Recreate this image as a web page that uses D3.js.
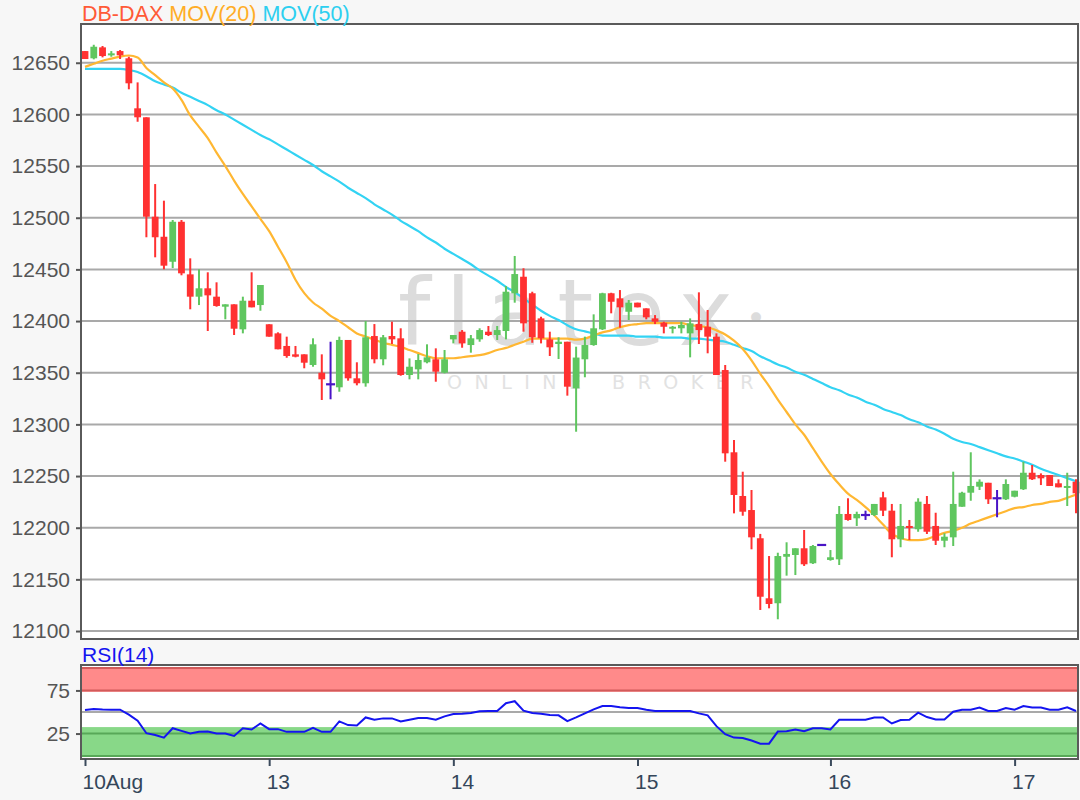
<!DOCTYPE html>
<html><head><meta charset="utf-8">
<script src="https://cdn.jsdelivr.net/npm/d3@7"></script>
<style>body{margin:0;background:#f7f7f7;} svg{display:block;font-family:"Liberation Sans",Arial,sans-serif;}</style>
</head><body>
<svg id="c" width="1080" height="800"></svg>
<script>
// ---- data (hourly candles, 10 Aug - 17 Aug) ----
const open = [12661.3,12654.3,12664.9,12657.2,12661.3,12654.3,12605.9,12597.2,12501.0,12481.6,
12457.4,12496.1,12445.2,12423.6,12431.7,12423.6,12413.9,12416.2,12392.0,12419.7,
12415.5,12396.9,12388.1,12375.9,12367.8,12367.8,12357.5,12350.0,12338.8,12335.9,
12381.7,12344.6,12339.8,12385.5,12363.0,12385.5,12383.3,12347.8,12353.3,12360.1,
12363.0,12350.0,12382.3,12389.7,12376.8,12382.3,12389.7,12386.5,12390.4,12426.9,
12442.9,12426.9,12402.6,12382.3,12377.8,12380.0,12334.9,12363.0,12376.8,12392.0,
12426.9,12422.0,12409.0,12417.8,12412.3,12402.6,12398.4,12393.0,12393.0,12388.1,
12397.1,12394.5,12384.9,12352.6,12273.0,12230.7,12217.1,12189.8,12131.7,12126.9,
12171.9,12173.6,12180.1,12165.6,12183.3,12168.8,12169.4,12213.3,12209.1,12212.3,
12212.3,12229.4,12216.5,12188.8,12201.7,12198.5,12223.0,12201.7,12187.4,12190.7,
12220.3,12233.9,12239.7,12243.5,12228.5,12227.5,12230.0,12237.2,12253.2,12251.0,
12251.0,12243.0,12239.1,12244.5];
const high = [12661.3,12667.4,12666.2,12661.3,12662.3,12655.8,12631.0,12597.2,12532.6,12516.5,
12497.8,12497.8,12460.7,12450.1,12447.2,12437.5,12416.2,12416.2,12423.6,12447.2,
12434.9,12396.9,12389.1,12384.9,12375.9,12367.8,12383.3,12367.8,12380.0,12384.9,
12381.7,12360.1,12400.1,12397.1,12386.5,12399.4,12393.0,12363.9,12368.1,12377.5,
12373.6,12372.0,12386.5,12391.3,12386.5,12393.0,12395.2,12395.2,12433.9,12463.0,
12451.1,12428.4,12404.2,12389.7,12384.3,12380.0,12375.2,12384.9,12406.5,12427.4,
12427.4,12430.0,12420.4,12417.8,12412.3,12405.8,12399.4,12395.2,12399.4,12402.6,
12427.8,12410.7,12388.1,12357.5,12284.9,12254.2,12236.5,12194.0,12172.6,12175.8,
12185.9,12180.1,12197.8,12183.3,12183.3,12178.4,12221.0,12228.5,12215.5,12216.5,
12223.0,12234.8,12223.0,12223.0,12207.5,12228.5,12230.7,12214.5,12194.6,12254.2,
12234.8,12273.0,12246.8,12243.5,12236.5,12246.8,12235.8,12263.9,12260.7,12252.6,
12251.0,12246.8,12253.2,12246.8];
const low = [12653.6,12653.3,12655.2,12655.8,12653.6,12624.3,12592.9,12481.1,12461.7,12450.1,
12451.3,12444.3,12411.4,12415.5,12390.4,12413.9,12401.7,12386.5,12388.1,12413.3,
12410.0,12384.9,12372.7,12364.5,12364.9,12354.3,12355.8,12323.6,12324.3,12331.6,
12342.3,12337.8,12336.5,12359.1,12357.2,12377.8,12347.1,12343.6,12343.6,12359.1,
12341.3,12349.4,12378.4,12374.2,12369.4,12380.0,12385.5,12381.7,12382.3,12417.8,
12389.7,12379.0,12378.4,12366.2,12363.3,12327.8,12292.9,12345.6,12376.1,12391.3,
12407.5,12393.6,12401.0,12413.3,12401.7,12397.1,12388.1,12388.1,12388.1,12364.9,
12377.8,12368.8,12347.8,12263.9,12213.9,12211.6,12179.1,12120.4,12122.0,12111.4,
12153.6,12154.2,12163.0,12164.9,12183.3,12168.1,12163.9,12206.8,12201.7,12207.5,
12211.3,12211.3,12171.4,12181.1,12188.1,12196.1,12193.9,12183.3,12181.1,12182.3,
12220.3,12226.1,12236.5,12223.0,12210.1,12226.8,12229.4,12236.5,12246.2,12241.3,
12240.4,12239.1,12221.0,12213.9];
const close = [12653.6,12665.5,12656.5,12659.1,12657.2,12630.1,12597.2,12501.0,12481.1,12453.6,
12496.1,12446.2,12423.6,12431.7,12424.9,12414.6,12416.2,12392.6,12419.7,12413.3,
12434.9,12384.9,12372.7,12366.2,12365.5,12359.7,12377.5,12343.6,12338.8,12381.7,
12344.6,12339.8,12384.3,12363.0,12384.3,12382.3,12347.8,12355.8,12362.3,12364.9,
12351.0,12363.0,12386.5,12378.4,12383.3,12391.3,12386.5,12391.3,12428.4,12445.5,
12397.8,12384.3,12383.3,12374.6,12380.0,12336.5,12364.7,12376.8,12393.0,12426.9,
12418.7,12413.3,12417.8,12413.3,12403.6,12399.4,12394.5,12394.5,12396.2,12397.8,
12391.3,12384.9,12347.8,12272.0,12231.7,12215.5,12190.7,12133.2,12126.2,12172.6,
12174.6,12180.1,12164.6,12182.3,12183.3,12171.4,12213.3,12207.5,12213.3,12212.3,
12223.0,12216.5,12188.8,12201.7,12200.4,12225.2,12196.1,12187.4,12191.3,12223.0,
12233.9,12240.4,12244.5,12227.5,12228.5,12242.3,12235.8,12253.2,12246.9,12247.8,
12240.4,12239.1,12240.4,12233.3];
const ma20 = [12646,12649,12652,12654,12656,12657,12655,12645,12638,12631,
12625,12614,12599,12588,12577,12563,12550,12536,12523,12511,
12499,12487,12472,12457,12440,12427,12418,12412,12405,12400,
12394,12388,12385,12382,12379,12377,12375,12372,12369,12366,
12364,12364,12364,12365,12366,12367,12369,12372,12374,12377,
12380,12383,12383,12383,12383,12383,12382,12383,12386,12389,
12391,12394,12396,12397,12398,12398,12398,12398,12398,12396,
12395,12394,12391,12387,12381,12373,12362,12349,12337,12324,
12312,12300,12290,12277,12264,12252,12242,12233,12227,12220,
12212,12203,12194,12190,12188,12188,12189,12192,12195,12197,
12200,12204,12207,12210,12213,12216,12219,12220,12222,12223,
12225,12226,12229,12232];
const ma50 = [12644,12644,12644,12644,12644,12643,12641,12637,12632,12629,
12626,12621,12617,12613,12609,12604,12600,12595,12590,12585,
12580,12576,12571,12566,12561,12556,12551,12545,12540,12535,
12529,12524,12519,12513,12508,12503,12497,12492,12487,12481,
12476,12470,12465,12460,12455,12449,12444,12439,12433,12428,
12422,12416,12410,12405,12401,12396,12392,12390,12388,12386,
12386,12386,12386,12385,12385,12385,12384,12384,12384,12383,
12383,12382,12381,12380,12377,12374,12371,12366,12362,12358,
12355,12351,12348,12344,12340,12336,12333,12329,12326,12322,
12319,12315,12312,12309,12305,12302,12298,12295,12291,12286,
12283,12281,12278,12275,12272,12269,12267,12264,12261,12257,
12254,12251,12248,12245];
const rsi = [52.3,53.5,52.8,52.7,52.7,47,40,25.4,23.4,20.3,
31.2,28.1,25,27,27.3,25,25,22.3,31.2,29.7,
36.7,30.1,30.1,27,27,27,31.6,27,27,39.1,
34.8,34.4,43.7,41,42.6,42.6,39.1,41,43,43,
41,44.9,47.7,48,48.8,50.8,51.2,51.2,60.2,62.5,
51.6,48.8,48,46.5,46.1,39.5,43.7,48.4,53,57,
57,55.5,54.7,54.7,52.5,51.2,51.2,51.2,51.2,51.2,
48.4,46.1,33.6,24.2,20.3,19.9,17,13.3,13.3,27.3,
27.7,29.7,27.7,31.2,31.2,29.7,41,41,41,41,
43.7,43.7,36.7,40.6,41,49.2,44.1,41.4,41.4,50.4,
52.7,52.7,55.1,51.2,51.2,54.7,52.7,57,55.1,55.1,
52.7,52.7,55.5,51.2];
const dayTickIndex = [0, 21, 42, 63, 85, 106];
const dayTickLabels = ["10Aug", "13", "14", "15", "16", "17"];
const priceTicks = [12100,12150,12200,12250,12300,12350,12400,12450,12500,12550,12600,12650];
const rsiTicks = [25, 75];
const rsiMid = 50;
const rsiLines = [101, 75, 25, -1];
const rsiBands = [{from: 73.5, to: 101, fill: "#ff8a8a"}, {from: -1, to: 32.5, fill: "#88d888"}];

// ---- layout ----
const svg = d3.select('#c');
const W = 1080, H = 800;
const P = {l: 81, r: 1078, t: 24, b: 639};
const R = {t: 665, b: 759};
svg.append('rect').attr('width', W).attr('height', H).attr('fill', '#f7f7f7');

const x = d3.scaleLinear().domain([0, open.length - 1]).range([85, 1076]);
const y = d3.scaleLinear().domain([12092.3, 12687.5]).range([P.b, P.t]);
const yr = d3.scaleLinear().domain([-4.5, 104.5]).range([R.b, R.t]);

// main panel background
svg.append('rect').attr('x', P.l).attr('y', P.t).attr('width', P.r - P.l).attr('height', P.b - P.t).attr('fill', '#fff');

// watermark
const wm = svg.append('g').attr('pointer-events', 'none');
wm.append('text').attr('x', 398).attr('y', 345).text('flatex')
  .attr('font-family', '"DejaVu Sans", sans-serif').attr('font-weight', 400)
  .attr('font-size', 92).attr('letter-spacing', 15).attr('fill', '#dcdcdc');
wm.append('text').attr('x', 746).attr('y', 330).text('•')
  .attr('font-family', '"DejaVu Sans", sans-serif').attr('font-size', 34).attr('fill', '#dcdcdc');
wm.append('text').attr('x', 447).attr('y', 389).text('ONLINE BROKER')
  .attr('font-family', '"DejaVu Sans", sans-serif').attr('font-size', 19).attr('letter-spacing', 12.5)
  .attr('fill', '#e2e2e2');

// grid lines
svg.append('g').selectAll('line').data(priceTicks).join('line')
  .attr('x1', P.l).attr('x2', P.r).attr('y1', d => y(d)).attr('y2', d => y(d))
  .attr('stroke', '#a9a9a9').attr('stroke-width', 2);

// y axis
const yAxis = svg.append('g').attr('transform', `translate(${P.l},0)`)
  .call(d3.axisLeft(y).tickValues(priceTicks).tickFormat(d3.format('d')).tickSize(5).tickPadding(6));
yAxis.select('.domain').remove();
yAxis.selectAll('line').attr('stroke', '#555').attr('stroke-width', 2);
yAxis.selectAll('text').attr('font-size', 21).attr('fill', '#555').attr('font-family', '"Liberation Sans",Arial,sans-serif');

// moving averages
const line = d3.line().x((d, i) => x(i)).y(d => y(d)).curve(d3.curveMonotoneX);
svg.append('path').datum(ma50).attr('d', line).attr('fill', 'none').attr('stroke', '#33d3f3').attr('stroke-width', 2.2);
svg.append('path').datum(ma20).attr('d', line).attr('fill', 'none').attr('stroke', '#ffb732').attr('stroke-width', 2.2);

// candles
const candles = open.map((o, i) => ({i, o, h: high[i], l: low[i], c: close[i]}));
const colorOf = d => d.c > d.o ? '#5fc65f' : (d.c < d.o ? '#ff3131' : '#4a14c6');
const g = svg.append('g');
g.selectAll('line.wick').data(candles).join('line').attr('class', 'wick')
  .attr('x1', d => x(d.i)).attr('x2', d => x(d.i))
  .attr('y1', d => y(d.h)).attr('y2', d => y(d.l))
  .attr('stroke', colorOf).attr('stroke-width', 2);
g.selectAll('rect.body').data(candles.filter(d => d.o !== d.c)).join('rect').attr('class', 'body')
  .attr('x', d => x(d.i) - 3.4).attr('width', 6.8)
  .attr('y', d => y(Math.max(d.o, d.c)))
  .attr('height', d => Math.max(2, Math.abs(y(d.o) - y(d.c))))
  .attr('fill', colorOf);
g.selectAll('line.doji').data(candles.filter(d => d.o === d.c)).join('line').attr('class', 'doji')
  .attr('x1', d => x(d.i) - 4.5).attr('x2', d => x(d.i) + 4.5)
  .attr('y1', d => y(d.c)).attr('y2', d => y(d.c))
  .attr('stroke', colorOf).attr('stroke-width', 2.2);

// main border
svg.append('rect').attr('x', P.l).attr('y', P.t).attr('width', P.r - P.l).attr('height', P.b - P.t)
  .attr('fill', 'none').attr('stroke', '#5a5a5a').attr('stroke-width', 2);

// title
const title = svg.append('text').attr('x', 82).attr('y', 21).attr('font-size', 21.5);
title.append('tspan').text('DB-DAX ').attr('fill', '#ff5a36');
title.append('tspan').text('MOV(20) ').attr('fill', '#ffad26');
title.append('tspan').text('MOV(50)').attr('fill', '#2ccff0');

// RSI panel
svg.append('rect').attr('x', P.l).attr('y', R.t).attr('width', P.r - P.l).attr('height', R.b - R.t).attr('fill', '#fff');
svg.append('g').selectAll('rect').data(rsiBands).join('rect')
  .attr('x', P.l).attr('width', P.r - P.l)
  .attr('y', d => yr(d.to)).attr('height', d => yr(d.from) - yr(d.to))
  .attr('fill', d => d.fill);
svg.append('g').selectAll('line').data(rsiLines).join('line')
  .attr('x1', P.l).attr('x2', P.r).attr('y1', d => yr(d)).attr('y2', d => yr(d))
  .attr('stroke', d => d > 50 ? '#d25a5a' : '#58a858').attr('stroke-width', 2);
svg.append('line').attr('x1', P.l).attr('x2', P.r).attr('y1', yr(rsiMid)).attr('y2', yr(rsiMid))
  .attr('stroke', '#a9a9a9').attr('stroke-width', 2);
const rAxis = svg.append('g').attr('transform', `translate(${P.l},0)`)
  .call(d3.axisLeft(yr).tickValues(rsiTicks).tickSize(5).tickPadding(6));
rAxis.select('.domain').remove();
rAxis.selectAll('line').attr('stroke', '#555').attr('stroke-width', 2);
rAxis.selectAll('text').attr('font-size', 21).attr('fill', '#555').attr('font-family', '"Liberation Sans",Arial,sans-serif');

svg.append('path').datum(rsi)
  .attr('d', d3.line().x((d, i) => x(i)).y(d => yr(d)))
  .attr('fill', 'none').attr('stroke', '#1414f0').attr('stroke-width', 2);
svg.append('rect').attr('x', P.l).attr('y', R.t).attr('width', P.r - P.l).attr('height', R.b - R.t)
  .attr('fill', 'none').attr('stroke', '#5a5a5a').attr('stroke-width', 2);
svg.append('text').attr('x', 82).attr('y', 662).attr('font-size', 21).attr('fill', '#1414f0').text('RSI(14)');

// x axis
const xAxis = svg.append('g').attr('transform', `translate(0,${R.b})`)
  .call(d3.axisBottom(x).tickValues(dayTickIndex).tickFormat((d, i) => dayTickLabels[i]).tickSize(7).tickPadding(8));
xAxis.select('.domain').remove();
xAxis.selectAll('line').attr('stroke', '#3b4a5c').attr('stroke-width', 2);
xAxis.selectAll('text').attr('font-size', 21).attr('fill', '#34465a').attr('text-anchor', 'start')
  .attr('dx', -3).attr('font-family', '"Liberation Sans",Arial,sans-serif');
</script>
</body></html>
